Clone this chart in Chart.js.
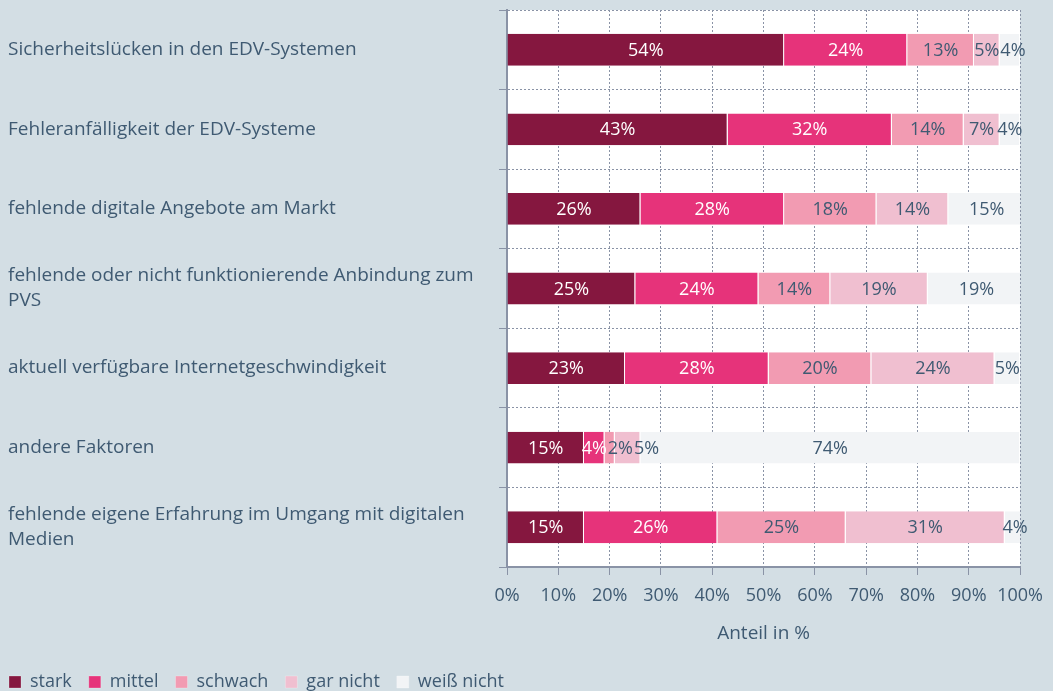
<!DOCTYPE html>
<html>
<head>
<meta charset="utf-8">
<script src="https://cdn.jsdelivr.net/npm/chart.js@4"></script>
<style>
  html, body { margin: 0; padding: 0; background: #d3dee4; }
  #wrap { width: 1053px; height: 691px; }
</style>
</head>
<body>
<div id="wrap"><canvas id="chart"></canvas></div>
<script>
const categories = [
    "Sicherheitslücken in den EDV-Systemen",
    "Fehleranfälligkeit der EDV-Systeme",
    "fehlende digitale Angebote am Markt",
    ["fehlende oder nicht funktionierende Anbindung zum", "PVS"],
    "aktuell verfügbare Internetgeschwindigkeit",
    "andere Faktoren",
    ["fehlende eigene Erfahrung im Umgang mit digitalen", "Medien"]
];
const seriesNames = ["stark", "mittel", "schwach", "gar nicht", "weiß nicht"];
const stark     = [54, 43, 26, 25, 23, 15, 15];
const mittel    = [24, 32, 28, 24, 28,  4, 26];
const schwach   = [13, 14, 18, 14, 20,  2, 25];
const garNicht  = [ 5,  7, 14, 19, 24,  5, 31];
const weissNicht= [ 4,  4, 15, 19,  5, 74,  4];
const xTicks = [0, 10, 20, 30, 40, 50, 60, 70, 80, 90, 100];

const colors = ["#85173f", "#e6337a", "#f29bb2", "#f0bfd0", "#f2f4f6"];
const labelColors = ["#ffffff", "#ffffff", "#3f5a72", "#3f5a72", "#3f5a72"];
const textColor = "#3f5a72";
const gridColor = "#8a93a6";
const fontFamily = "'Open Sans', sans-serif";

const allSeries = [stark, mittel, schwach, garNicht, weissNicht];

// white plot area + pull legend to the left edge
const plotBg = {
    id: 'plotBg',
    afterLayout(chart) {
        chart.legend.left -= 16;
    },
    beforeDraw(chart) {
        const { ctx, chartArea: a } = chart;
        ctx.save();
        ctx.fillStyle = '#ffffff';
        ctx.fillRect(a.left, a.top, a.right - a.left, a.bottom - a.top);
        ctx.restore();
    }
};

// percentage labels in the middle of each segment, pushed right when they collide
const barLabels = {
    id: 'barLabels',
    afterDatasetsDraw(chart) {
        const ctx = chart.ctx;
        ctx.save();
        ctx.font = "18px " + fontFamily;
        ctx.textAlign = 'center';
        ctx.textBaseline = 'middle';
        const n = chart.data.labels.length;
        for (let j = 0; j < n; j++) {
            let lastRight = -Infinity;
            chart.data.datasets.forEach((ds, i) => {
                const bar = chart.getDatasetMeta(i).data[j];
                const txt = ds.data[j] + "%";
                const w = ctx.measureText(txt).width;
                let cx = (bar.x + bar.base) / 2;
                if (cx - w / 2 < lastRight + 1) cx = lastRight + 1 + w / 2;
                lastRight = cx + w / 2;
                ctx.fillStyle = labelColors[i];
                ctx.fillText(txt, cx, bar.y + 1);
            });
        }
        ctx.restore();
    }
};

new Chart(document.getElementById('chart'), {
    type: 'bar',
    data: {
        labels: categories,
        datasets: allSeries.map((d, i) => ({
            label: seriesNames[i],
            data: d,
            backgroundColor: colors[i],
            borderColor: '#ffffff',
            borderWidth: { left: 0, right: 1, top: 0, bottom: 0 },
            borderSkipped: false,
            categoryPercentage: 0.4,
            barPercentage: 1.0
        }))
    },
    options: {
        indexAxis: 'y',
        responsive: true,
        maintainAspectRatio: false,
        animation: false,
        layout: { padding: { left: 8, right: 30, top: 10, bottom: -10 } },
        plugins: {
            legend: {
                position: 'bottom',
                align: 'start',
                labels: {
                    boxWidth: 12,
                    boxHeight: 12,
                    color: textColor,
                    padding: 17,
                    font: { family: fontFamily, size: 18 }
                }
            },
            tooltip: { enabled: false }
        },
        scales: {
            x: {
                stacked: true,
                min: 0,
                max: 100,
                afterBuildTicks(scale) {
                    scale.ticks = xTicks.map(v => ({ value: v }));
                },
                afterFit(scale) { scale.height = 89; },
                ticks: {
                    color: textColor,
                    padding: 10,
                    minRotation: 0,
                    maxRotation: 0,
                    autoSkip: false,
                    font: { family: fontFamily, size: 18 },
                    callback: v => v + "%"
                },
                grid: {
                    color: gridColor,
                    tickLength: 8,
                    tickColor: gridColor,
                    tickBorderDash: []
                },
                border: { color: gridColor, width: 2, dash: [2, 2] },
                title: {
                    display: true,
                    text: "Anteil in %",
                    color: textColor,
                    font: { family: fontFamily, size: 19 },
                    padding: { top: 8, bottom: 11 }
                }
            },
            y: {
                stacked: true,
                afterFit(scale) {
                    scale.width = 499;
                    scale.paddingTop = 0;
                    scale.paddingBottom = 0;
                },
                ticks: {
                    crossAlign: 'far',
                    color: textColor,
                    font: { family: fontFamily, size: 19, lineHeight: 1.32 }
                },
                grid: {
                    offset: true,
                    color: gridColor,
                    tickLength: 8,
                    tickColor: gridColor,
                    tickBorderDash: []
                },
                border: { color: gridColor, width: 2, dash: [2, 2] }
            }
        }
    },
    plugins: [plotBg, barLabels]
});
</script>
</body>
</html>
